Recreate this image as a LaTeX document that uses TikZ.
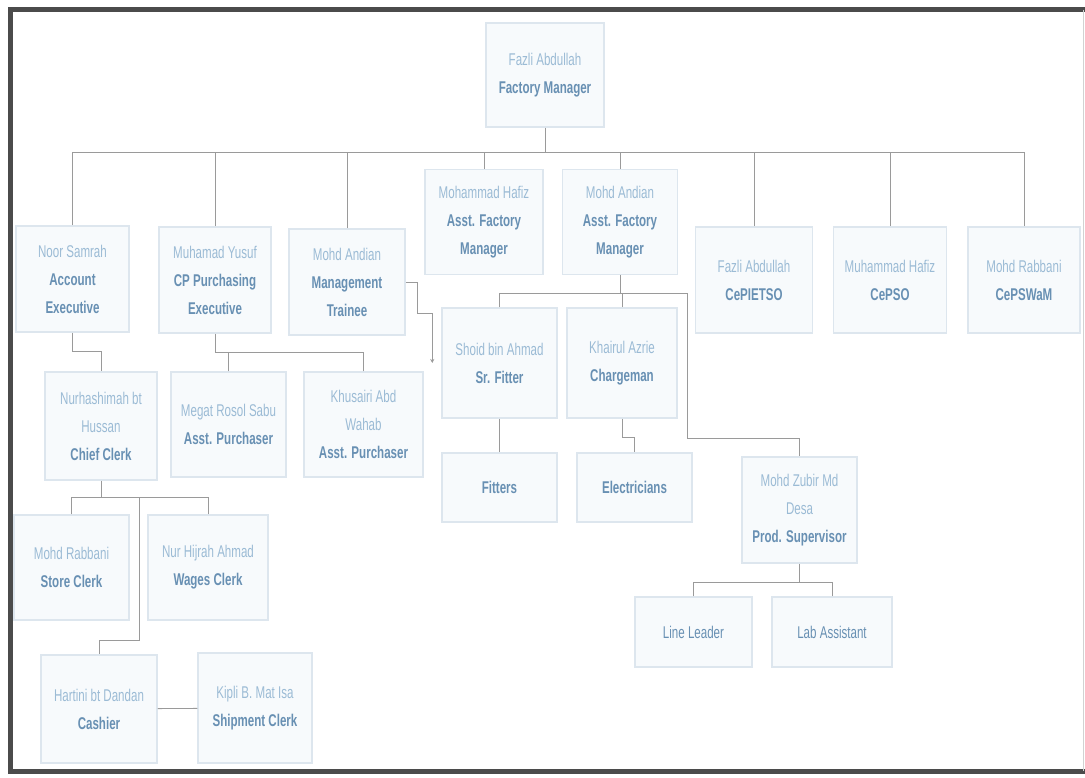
\documentclass[tikz,border=0pt]{standalone}
\usepackage{fontspec}
\setmainfont{Liberation Sans}[FakeStretch=0.68]
\usetikzlibrary{arrows.meta,calc}
\definecolor{boxline}{HTML}{DDE6EE}
\definecolor{boxfill}{HTML}{F7FAFC}
\definecolor{namec}{HTML}{9BBBD5}
\definecolor{titlec}{HTML}{6890B3}
\definecolor{linkc}{HTML}{9A9A9A}
\definecolor{framec}{HTML}{4B4B4B}
\tikzset{b/.style={draw=boxline, line width=1.5pt, fill=boxfill, minimum width=115pt, minimum height=106pt, inner sep=0pt, align=center, font=\fontsize{17}{28}\selectfont}}
\tikzset{s/.style={b, minimum height=70pt}}
\tikzset{w/.style={draw=linkc, line width=0.8pt}}
\newcommand{\who}[1]{\textcolor{namec}{#1}}
\newcommand{\job}[1]{\textcolor{titlec}{\bfseries #1}}

\begin{document}
\begin{tikzpicture}[x=1pt, y=-1pt]
  \useasboundingbox (0,0) rectangle (1085,778);
  % frame
  \draw [framec, line width=5pt] (1085,10) -- (10,10) -- (10,771) -- (1085,771);
  \draw [gray!35, line width=1pt] (1083,10) -- (1083,771);

  \node [b, minimum width=118pt, minimum height=104pt] (fm) at (545,75) {\who{Fazli Abdullah}\\\job{Factory Manager}};

  % first row
  \node [b, minimum width=113pt] (noor) at (72.5,279) {\who{Noor Samrah}\\\job{Account}\\\job{Executive}};
  \node [b, minimum width=112pt] (yusuf) at (215,280) {\who{Muhamad Yusuf}\\\job{CP Purchasing}\\\job{Executive}};
  \node [b, minimum width=116pt] (trainee) at (347,282) {\who{Mohd Andian}\\\job{Management}\\\job{Trainee}};
  \node [b, minimum width=118pt, minimum height=105pt] (hafiz) at (484,222) {\who{Mohammad Hafiz}\\\job{Asst. Factory}\\\job{Manager}};
  \node [b, minimum height=105pt] (andian) at (620,222) {\who{Mohd Andian}\\\job{Asst. Factory}\\\job{Manager}};
  \node [b, minimum width=117pt] (fazli) at (754,280) {\who{Fazli Abdullah}\\\job{CePIETSO}};
  \node [b, minimum width=113pt] (hafizb) at (890,280) {\who{Muhammad Hafiz}\\\job{CePSO}};
  \node [b, minimum width=112pt] (rabbani) at (1024,280) {\who{Mohd Rabbani}\\\job{CePSWaM}};

  \coordinate (bar) at (545,152);
  \draw [w] (fm.south) -- (bar);
  \foreach \c in {noor,yusuf,trainee,hafiz,andian,fazli,hafizb,rabbani}
    \draw [w] (\c.north) |- (bar);

  % under the asst. factory manager
  \node [b, minimum height=110pt] (shoid) at (499.5,363) {\who{Shoid bin Ahmad}\\\job{Sr. Fitter}};
  \node [b, minimum width=110pt, minimum height=110pt] (khairul) at (622,363) {\who{Khairul Azrie}\\\job{Chargeman}};
  \node [s, minimum height=69pt] (fitters) at (499.5,487.5) {\job{Fitters}};
  \node [s, minimum height=69pt] (elec) at (634.5,487.5) {\job{Electricians}};
  \node [b] (zubir) at (799.5,510) {\who{Mohd Zubir Md}\\\who{Desa}\\\job{Prod. Supervisor}};
  \node [s, minimum width=117pt] (leader) at (693.5,632) {\textcolor{titlec}{Line Leader}};
  \node [s, minimum width=120pt] (lab) at (832,632) {\textcolor{titlec}{Lab Assistant}};

  \coordinate (aj) at (620,293);
  \coordinate (zj) at (687,438);
  \draw [w] (andian.south) -- (aj);
  \foreach \c in {shoid,khairul}
    \draw [w] (\c.north) |- (aj);
  \draw [w] (aj) -| (zj) -| (zubir.north);
  \draw [w] (shoid) -- (fitters);
  \draw [w] (khairul.south) -- ++(0,19) -| (elec.north);
  \draw [w, -{Stealth[length=4pt,width=4pt]}] (trainee.east) -- ++(12,0) -- ++(0,31) -| ([xshift=-9pt]shoid.west);

  \coordinate (zb) at (799.5,582);
  \draw [w] (zubir.south) -- (zb);
  \foreach \c in {leader,lab}
    \draw [w] (\c.north) |- (zb);

  % left side
  \node [b, minimum width=112pt, minimum height=108pt] (nurh) at (101,426) {\who{Nurhashimah bt}\\\who{Hussan}\\\job{Chief Clerk}};
  \node [b, minimum height=105pt] (megat) at (228.5,424.5) {\who{Megat Rosol Sabu}\\\job{Asst. Purchaser}};
  \node [b, minimum width=119pt, minimum height=105pt] (khusairi) at (363.5,424.5) {\who{Khusairi Abd}\\\who{Wahab}\\\job{Asst. Purchaser}};
  \draw [w] (noor.south) -- ++(0,19) -| (nurh.north);
  \coordinate (yj) at (215,352);
  \draw [w] (yusuf.south) -- (yj);
  \foreach \c in {megat,khusairi}
    \draw [w] (\c.north) |- (yj);

  \node [b, minimum height=105pt] (store) at (71.5,567.5) {\who{Mohd Rabbani}\\\job{Store Clerk}};
  \node [b, minimum width=120pt, minimum height=105pt] (wages) at (208,567.5) {\who{Nur Hijrah Ahmad}\\\job{Wages Clerk}};
  \node [b, minimum width=116pt, minimum height=108pt] (hartini) at (99,709) {\who{Hartini bt Dandan}\\\job{Cashier}};
  \node [b, minimum width=114pt, minimum height=110pt] (kipli) at (255,708) {\who{Kipli B. Mat Isa}\\\job{Shipment Clerk}};

  \coordinate (nj) at (101,497);
  \draw [w] (nurh.south) -- (nj);
  \foreach \c in {store,wages}
    \draw [w] (\c.north) |- (nj);
  \draw [w] (nj) -| ++(38,143) -| (hartini.north);
  \draw [w] (hartini) -- (kipli);
\end{tikzpicture}
\end{document}
